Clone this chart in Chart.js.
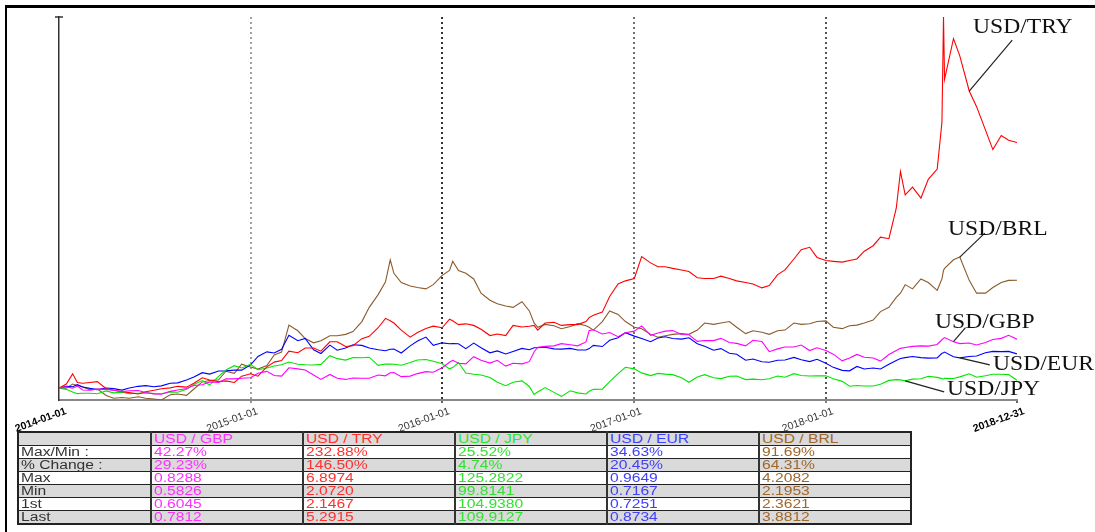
<!DOCTYPE html>
<html>
<head>
<meta charset="utf-8">
<script src="https://cdn.jsdelivr.net/npm/chart.js@4.4.1/dist/chart.umd.min.js"></script>
<style>
  html,body{margin:0;padding:0;background:#fff;overflow:hidden;}
  #wrap{position:relative;width:1095px;height:532px;overflow:hidden;}
  #frame{position:absolute;left:5px;top:5px;width:1200px;height:600px;border-top:3px solid #000;border-left:2px solid #000;}
  canvas{position:absolute;left:0;top:0;}
  .lbl{position:absolute;font-family:'Liberation Serif','Times New Roman',serif;font-size:20px;line-height:20px;color:#111;transform:scaleX(1.18);transform-origin:0 0;white-space:nowrap;}
  #stats{position:absolute;left:17px;top:431px;border-collapse:collapse;table-layout:fixed;width:893px;font-family:'Liberation Sans',Arial,sans-serif;font-size:12.5px;border:2px solid #222;}
  #stats td{border:1px solid #222;height:12px;line-height:12px;padding:0 0 0 2px;overflow:visible;white-space:nowrap;}
  #stats td + td{border-left:2px solid #333;}
  #stats td span{display:inline-block;transform:scaleX(1.25);transform-origin:0 50%;}
  #stats tr.g td{background:#dadada;}
  #stats tr.w td{background:#fff;}
</style>
</head>
<body>
<div id="wrap">
  <div id="frame"></div>
  <canvas id="c" width="1095" height="532"></canvas>
  <div class="lbl" style="left:973px;top:16px;">USD/TRY</div>
  <div class="lbl" style="left:948px;top:218px;">USD/BRL</div>
  <div class="lbl" style="left:935px;top:311px;">USD/GBP</div>
  <div class="lbl" style="left:993px;top:353px;">USD/EUR</div>
  <div class="lbl" style="left:947px;top:378px;">USD/JPY</div>
  <table id="stats"></table>
</div>
<script>
// ---------- DATA ----------
const dates = [
  '2014-01-01','2014-01-15','2014-01-27','2014-02-05','2014-02-15','2014-03-01','2014-03-15','2014-04-01','2014-04-15','2014-05-01','2014-05-15','2014-06-01','2014-06-15','2014-07-01','2014-07-15','2014-08-01','2014-08-15','2014-09-01','2014-09-15','2014-10-01','2014-10-15','2014-11-01','2014-11-15','2014-12-01','2014-12-15',
  '2015-01-01','2015-01-15','2015-02-01','2015-02-15','2015-03-01','2015-03-15','2015-04-01','2015-04-15','2015-05-01','2015-05-15','2015-06-01','2015-06-15','2015-07-01','2015-07-15','2015-08-01','2015-08-15','2015-09-01','2015-09-15','2015-09-24','2015-10-01','2015-10-15','2015-11-01','2015-11-15','2015-12-01','2015-12-15',
  '2016-01-01','2016-01-15','2016-01-21','2016-02-01','2016-02-15','2016-03-01','2016-03-15','2016-04-01','2016-04-15','2016-05-01','2016-05-15','2016-06-01','2016-06-15','2016-06-24','2016-07-01','2016-07-15','2016-08-01','2016-08-15','2016-09-01','2016-09-15','2016-10-01','2016-10-07','2016-10-15','2016-11-01','2016-11-15','2016-12-01','2016-12-15',
  '2017-01-01','2017-01-15','2017-02-01','2017-02-15','2017-03-01','2017-03-15','2017-04-01','2017-04-15','2017-05-01','2017-05-15','2017-06-01','2017-06-15','2017-07-01','2017-07-15','2017-08-01','2017-08-15','2017-09-01','2017-09-15','2017-10-01','2017-10-15','2017-11-01','2017-11-15','2017-12-01','2017-12-15',
  '2018-01-01','2018-01-15','2018-02-01','2018-02-15','2018-03-01','2018-03-15','2018-04-01','2018-04-15','2018-05-01','2018-05-15','2018-05-23','2018-06-01','2018-06-15','2018-07-01','2018-07-15','2018-08-01','2018-08-10','2018-08-13','2018-08-15','2018-09-01','2018-09-13','2018-10-01','2018-10-15','2018-11-01','2018-11-15','2018-12-01','2018-12-15','2018-12-31'
];

const usdGBP = [
  0.6045,0.609,0.604,0.612,0.598, 0.597,0.601,0.600,0.597,0.592, 0.595,0.596,0.589,0.584,0.5826, 0.593,0.598,0.603,0.614,0.617, 0.627,0.625,0.638,0.638,0.640,
  0.642,0.658,0.665,0.650,0.648, 0.678,0.674,0.670,0.652,0.636, 0.654,0.640,0.636,0.641,0.640, 0.640,0.652,0.649,0.660,0.661, 0.646,0.648,0.657,0.664,0.662,
  0.678,0.698,0.705,0.694,0.692, 0.718,0.705,0.695,0.705,0.684, 0.694,0.692,0.700,0.735,0.752, 0.755,0.757,0.765,0.761,0.757, 0.771,0.812,0.815,0.800,0.805, 0.790,0.804,
  0.810,0.8288,0.795,0.803,0.810, 0.812,0.798,0.797,0.773,0.776, 0.776,0.784,0.769,0.766,0.757, 0.777,0.773,0.736,0.746,0.753, 0.753,0.760,0.740,0.750,
  0.740,0.727,0.703,0.713,0.726, 0.716,0.713,0.702,0.726,0.740, 0.748,0.751,0.755,0.757,0.756, 0.762,0.779,0.784,0.787,0.772, 0.765,0.767,0.760,0.769,0.780, 0.784,0.795,0.7812
];
const usdTRY = [
  2.1467,2.20,2.33,2.22,2.21, 2.22,2.23,2.14,2.12,2.10, 2.09,2.072,2.10,2.12,2.14, 2.15,2.17,2.16,2.21,2.28, 2.25,2.23,2.24,2.22,2.30,
  2.33,2.30,2.42,2.48,2.50, 2.62,2.60,2.66,2.66,2.62, 2.74,2.74,2.68,2.69,2.78, 2.81,2.92,3.04,3.01,2.98, 2.89,2.80,2.86,2.91,2.94,
  2.92,3.03,3.01,2.96,2.97, 2.95,2.90,2.82,2.84,2.82, 2.95,2.93,2.94,2.95,2.89, 2.98,2.99,2.95,2.96,2.96, 3.00,3.05,3.08,3.12,3.32, 3.48,3.52,
  3.55,3.83,3.75,3.70,3.70, 3.68,3.66,3.64,3.56,3.55, 3.55,3.58,3.55,3.52,3.50, 3.48,3.43,3.46,3.60,3.66, 3.80,3.92,3.95,3.82,
  3.78,3.77,3.76,3.78,3.80, 3.90,3.97,4.08,4.06,4.45, 4.92,4.62,4.72,4.58,4.82, 4.95,5.55,6.8974,6.10,6.62, 6.40,5.95,5.75,5.45,5.20, 5.38,5.32,5.2915
];
const usdJPY = [
  104.94,104.2,102.6,101.5,101.8, 101.8,101.4,103.2,102.0,102.4, 101.5,101.8,102.0,101.5,101.4, 102.6,102.4,104.2,107.3,109.7, 106.9,112.3,116.3,119.0,117.6,
  119.8,116.5,117.5,118.8,119.6, 121.3,119.9,119.6,119.4,119.8, 125.2822,123.4,122.5,124.1,124.0, 124.3,119.2,120.1,120.0,119.9, 119.3,121.0,122.6,122.9,121.8,
  120.2,117.0,117.8,121.0,114.4, 113.6,113.2,111.6,108.7,106.5, 108.6,109.5,106.0,101.0,102.5, 105.3,102.3,99.8141,103.3,102.0, 101.3,103.0,104.2,104.3,109.0, 114.0,118.0,
  117.0,114.5,112.8,114.2,113.7, 113.4,111.4,108.6,111.9,113.4, 111.4,110.9,112.4,112.5,110.3, 110.6,110.2,110.8,112.5,111.8, 114.0,112.9,112.5,112.6,
  112.7,110.8,109.2,106.1,106.6, 106.3,106.3,107.4,109.8,110.3, 110.1,109.5,110.6,110.8,112.4, 111.7,110.9,110.7,111.1,111.0, 112.0,113.9,111.8,112.7,113.6, 113.6,113.4,109.9127
];
const usdEUR = [
  0.7251,0.733,0.731,0.740,0.730, 0.724,0.719,0.726,0.723,0.7167, 0.726,0.733,0.736,0.731,0.735, 0.746,0.748,0.760,0.773,0.792, 0.786,0.799,0.800,0.803,0.803,
  0.826,0.862,0.882,0.877,0.893, 0.954,0.930,0.940,0.891,0.875, 0.911,0.889,0.899,0.913,0.910, 0.899,0.891,0.887,0.893,0.894, 0.877,0.908,0.929,0.946,0.910,
  0.921,0.917,0.918,0.917,0.896, 0.920,0.900,0.878,0.886,0.873, 0.884,0.897,0.891,0.900,0.900, 0.902,0.895,0.894,0.897,0.890, 0.890,0.896,0.910,0.905,0.932, 0.943,0.9649,
  0.950,0.940,0.926,0.942,0.947, 0.940,0.937,0.943,0.917,0.906, 0.889,0.896,0.876,0.872,0.846, 0.851,0.839,0.837,0.846,0.847, 0.858,0.848,0.840,0.850,
  0.833,0.815,0.802,0.800,0.819, 0.808,0.812,0.808,0.828,0.845, 0.853,0.857,0.862,0.857,0.855, 0.856,0.876,0.878,0.881,0.861, 0.856,0.862,0.864,0.878,0.884, 0.883,0.884,0.8734
];
const usdBRL = [
  2.3621,2.36,2.42,2.40,2.38, 2.34,2.35,2.26,2.22,2.23, 2.22,2.24,2.22,2.21,2.1953, 2.27,2.28,2.26,2.35,2.45, 2.47,2.48,2.60,2.57,2.70,
  2.66,2.63,2.68,2.83,2.87, 3.25,3.17,3.06,3.00,3.03, 3.10,3.10,3.12,3.16,3.30, 3.50,3.68,3.86,4.17,3.98, 3.85,3.80,3.78,3.76,3.82,
  3.95,4.02,4.15,4.02,3.98, 3.90,3.70,3.60,3.55,3.52, 3.50,3.58,3.45,3.28,3.22, 3.26,3.24,3.20,3.23,3.27, 3.24,3.22,3.18,3.30,3.45, 3.40,3.30,
  3.22,3.20,3.12,3.08,3.10, 3.12,3.13,3.12,3.18,3.28, 3.26,3.28,3.30,3.22,3.13, 3.17,3.15,3.12,3.17,3.18, 3.28,3.26,3.27,3.30,
  3.31,3.22,3.20,3.24,3.25, 3.28,3.32,3.44,3.50,3.64, 3.70,3.82,3.76,3.90,3.85, 3.74,3.90,4.02,4.05,4.17, 4.2082,3.88,3.70,3.70,3.78, 3.85,3.88,3.8812
];

const tickLabels = ['2014-01-01','2015-01-01','2016-01-01','2017-01-01','2018-01-01','2018-12-31'];

const seriesNames = ['USD / GBP','USD / TRY','USD / JPY','USD / EUR','USD / BRL'];
const rowLabels = ['Max/Min :','% Change :','Max','Min','1st','Last'];
const statGBP = ['42.27%','29.23%','0.8288','0.5826','0.6045','0.7812'];
const statTRY = ['232.88%','146.50%','6.8974','2.0720','2.1467','5.2915'];
const statJPY = ['25.52%','4.74%','125.2822','99.8141','104.9380','109.9127'];
const statEUR = ['34.63%','20.45%','0.9649','0.7167','0.7251','0.8734'];
const statBRL = ['91.69%','64.31%','4.2082','2.1953','2.3621','3.8812'];

// ---------- STYLE ----------
const lineColors = ['#ff00ff','#ff0000','#00e600','#0000ff','#8b5a2b'];
const textColors = ['#ff30ff','#ff3030','#33e033','#4040ff','#a0672a'];
const gridColors = ['rgba(0,0,0,0)','#a0a0a0','#333333','#707070','#555555','rgba(0,0,0,0)'];
const tickColors = ['rgba(0,0,0,0)','#777','#333','#555','#555','#333'];

// ---------- BUILD ----------
const dayOf = s => { const p = s.split('-').map(Number); return (Date.UTC(p[0], p[1]-1, p[2]) - Date.UTC(2014,0,1)) / 864e5; };
const xs = dates.map(dayOf);
const rel = arr => arr.map((v, i) => ({x: xs[i], y: v / arr[0]}));
const seriesRates = [usdGBP, usdTRY, usdJPY, usdEUR, usdBRL];
const datasets = seriesRates.map((arr, k) => ({
  label: seriesNames[k], data: rel(arr), borderColor: lineColors[k], borderWidth: 1.1, pointRadius: 0, tension: 0, fill: false
}));
let yMin = Infinity, yMax = -Infinity;
datasets.forEach(d => d.data.forEach(p => { yMin = Math.min(yMin, p.y); yMax = Math.max(yMax, p.y); }));

const leaders = [
  {ds: 1, date: '2018-10-01', dx: 43, dy: -51},
  {ds: 4, date: '2018-09-13', dx: 25, dy: -24},
  {ds: 0, date: '2018-09-01', dx: 12, dy: -14},
  {ds: 3, date: '2018-09-13', dx: 30, dy: 7},
  {ds: 2, date: '2018-06-01', dx: 39, dy: 11}
];

const decor = {
  id: 'decor',
  afterDatasetsDraw(chart) {
    const {ctx, scales: {x, y}} = chart;
    ctx.save();
    ctx.strokeStyle = '#333'; ctx.lineWidth = 1.5;
    ctx.beginPath(); ctx.moveTo(y.right - 4, y.top); ctx.lineTo(y.right + 4, y.top); ctx.stroke();
    ctx.strokeStyle = '#222'; ctx.lineWidth = 1.2;
    leaders.forEach(l => {
      const i = dates.indexOf(l.date);
      const p = datasets[l.ds].data[i];
      const px = x.getPixelForValue(p.x), py = y.getPixelForValue(p.y);
      ctx.beginPath(); ctx.moveTo(px, py); ctx.lineTo(px + l.dx, py + l.dy); ctx.stroke();
    });
    ctx.restore();
  }
};

new Chart(document.getElementById('c'), {
  type: 'line',
  data: {datasets},
  options: {
    responsive: false, animation: false, devicePixelRatio: 1,
    layout: {padding: {left: 59, right: 78, top: 17, bottom: 92}},
    plugins: {legend: {display: false}, tooltip: {enabled: false}},
    scales: {
      x: {
        type: 'linear', min: 0, max: dayOf(tickLabels[tickLabels.length - 1]),
        afterBuildTicks: s => { s.ticks = tickLabels.map(t => ({value: dayOf(t)})); },
        afterFit: s => { s.height = 40; },
        ticks: {
          autoSkip: false, minRotation: 20, maxRotation: 20, padding: 0, labelOffset: 7,
          callback: (v, i) => tickLabels[i],
          color: c => (c.index === 0 || c.index === tickLabels.length - 1) ? '#000' : '#333',
          font: c => ({family: "'Liberation Sans', Arial, sans-serif", size: 10.5,
                       weight: (c.index === 0 || c.index === tickLabels.length - 1) ? 'bold' : 'normal'})
        },
        grid: {
          color: c => gridColors[c.index] || 'rgba(0,0,0,0)', lineWidth: 2,
          drawTicks: true, tickLength: 5, tickWidth: 1.5, tickBorderDash: [2, 2],
          tickColor: c => tickColors[c.index] || '#555'
        },
        border: {display: true, color: '#888', width: 2, dash: [2, 3]}
      },
      y: {
        min: yMin, max: yMax,
        ticks: {display: false},
        grid: {display: false, drawTicks: false},
        border: {display: true, color: '#333', width: 1.5},
        afterFit: s => { s.width = 0; }
      }
    }
  },
  plugins: [decor]
});

// ---------- TABLE ----------
const stats = [statGBP, statTRY, statJPY, statEUR, statBRL];
const tbl = document.getElementById('stats');
const cg = document.createElement('colgroup');
[133, 152, 152, 152, 152, 152].forEach(w => { const c = document.createElement('col'); c.style.width = w + 'px'; cg.appendChild(c); });
tbl.appendChild(cg);
const mkCell = (txt, color) => { const td = document.createElement('td'); const sp = document.createElement('span'); sp.textContent = txt; if (color) td.style.color = color; td.appendChild(sp); return td; };
const head = document.createElement('tr'); head.className = 'g';
head.appendChild(mkCell('', null));
seriesNames.forEach((n, k) => head.appendChild(mkCell(n, textColors[k])));
tbl.appendChild(head);
rowLabels.forEach((lab, r) => {
  const tr = document.createElement('tr'); tr.className = (r % 2 === 0) ? 'w' : 'g';
  tr.appendChild(mkCell(lab, '#333'));
  stats.forEach((s, k) => tr.appendChild(mkCell(s[r], textColors[k])));
  tbl.appendChild(tr);
});
</script>
</body>
</html>
